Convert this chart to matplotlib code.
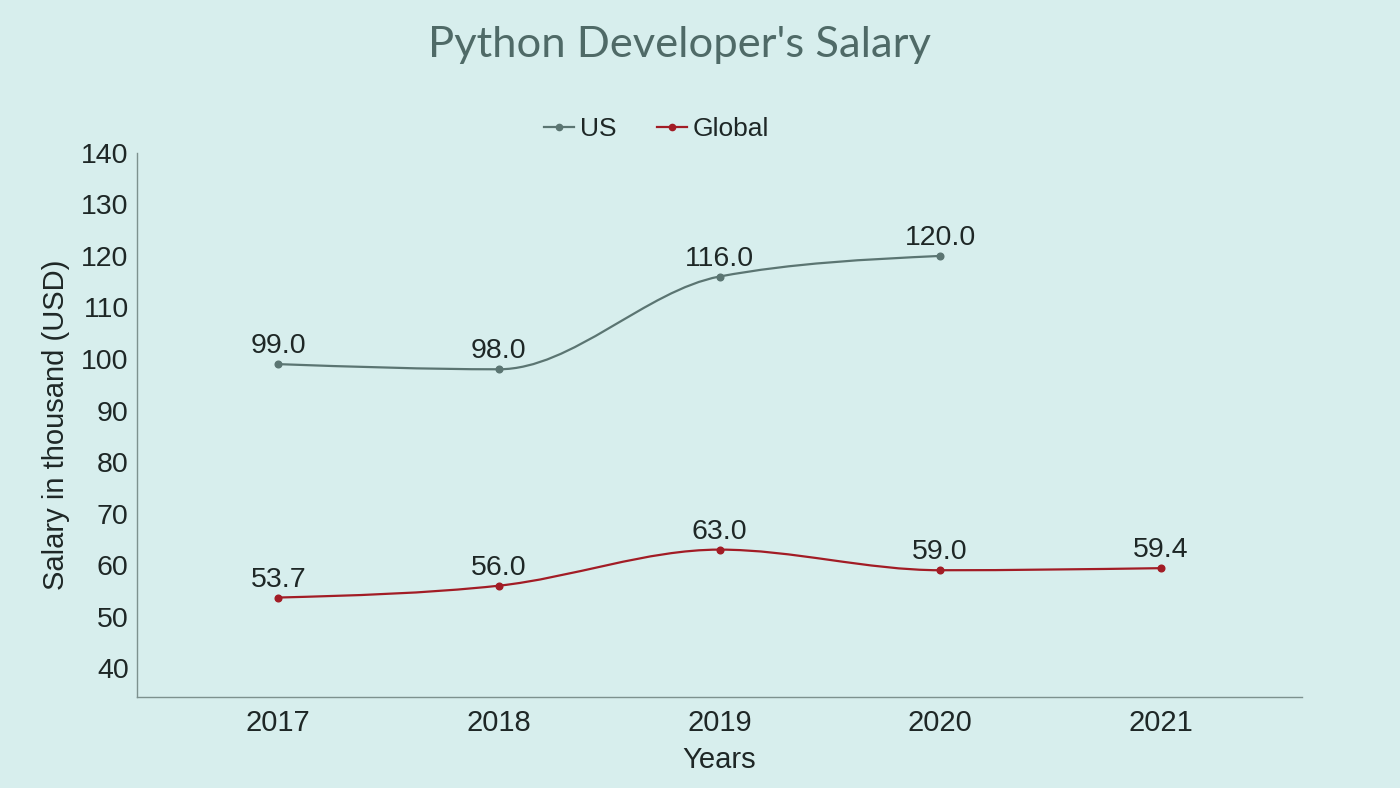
import numpy as np
import matplotlib.pyplot as plt
from matplotlib.path import Path
from matplotlib.patches import PathPatch
from matplotlib.lines import Line2D

years = [2017, 2018, 2019, 2020, 2021]
us_years = [2017, 2018, 2019, 2020]
us_salary = [99.0, 98.0, 116.0, 120.0]
global_salary = [53.7, 56.0, 63.0, 59.0, 59.4]
y_ticks = [40, 50, 60, 70, 80, 90, 100, 110, 120, 130, 140]

bg = '#d7eeed'
us_col = '#5b7572'
gl_col = '#a21c25'
txt_col = '#1e2726'

plt.rcParams['font.family'] = ['Liberation Sans', 'DejaVu Sans']


def sgn(v):
    return -1.0 if v < 0 else 1.0


def monotone_path(xs, ys):
    # monotone cubic curve (same rule as d3 curveMonotoneX)
    xs = np.asarray(xs, float)
    ys = np.asarray(ys, float)
    n = len(xs)
    t = np.zeros(n)
    for i in range(1, n - 1):
        h0 = xs[i] - xs[i - 1]
        h1 = xs[i + 1] - xs[i]
        s0 = (ys[i] - ys[i - 1]) / h0
        s1 = (ys[i + 1] - ys[i]) / h1
        p = (s0 * h1 + s1 * h0) / (h0 + h1)
        t[i] = (sgn(s0) + sgn(s1)) * min(abs(s0), abs(s1), 0.5 * abs(p))
    t[0] = (3 * (ys[1] - ys[0]) / (xs[1] - xs[0]) - t[1]) / 2
    t[-1] = (3 * (ys[-1] - ys[-2]) / (xs[-1] - xs[-2]) - t[-2]) / 2
    verts = [(xs[0], ys[0])]
    codes = [Path.MOVETO]
    for i in range(n - 1):
        dx = (xs[i + 1] - xs[i]) / 3
        verts += [(xs[i] + dx, ys[i] + dx * t[i]),
                  (xs[i + 1] - dx, ys[i + 1] - dx * t[i + 1]),
                  (xs[i + 1], ys[i + 1])]
        codes += [Path.CURVE4] * 3
    return Path(verts, codes)


fig = plt.figure(figsize=(14, 7.88), dpi=100, facecolor=bg)
ax = fig.add_axes([0.0979, 0.1155, 0.8321, 0.6905], facecolor=bg)
ax.set_xlim(2016.36, 2021.64)
ax.set_ylim(34.4, 139.8)

for xs, ys, col in [(us_years, us_salary, us_col), (years, global_salary, gl_col)]:
    ax.add_patch(PathPatch(monotone_path(xs, ys), facecolor='none',
                           edgecolor=col, lw=1.6, zorder=2))
    ax.plot(xs, ys, 'o', color=col, markersize=4.8, zorder=3)
    for x, y in zip(xs, ys):
        ax.annotate(f'{y:.1f}', (x, y), xytext=(0, 3.5), textcoords='offset points',
                    ha='center', va='bottom', fontsize=20.5, color=txt_col)

ax.set_xticks(years)
ax.set_xticklabels([str(y) for y in years])
ax.set_yticks(y_ticks)
ax.tick_params(length=0, colors=txt_col)
ax.tick_params(axis='x', labelsize=21, pad=9)
ax.tick_params(axis='y', labelsize=20.5, pad=6)
for s in ['top', 'right']:
    ax.spines[s].set_visible(False)
for s in ['left', 'bottom']:
    ax.spines[s].set_color('#7d918e')
    ax.spines[s].set_linewidth(1)

ax.set_xlabel('Years', fontsize=21, color=txt_col, labelpad=6)
ax.set_ylabel('Salary in thousand (USD)', fontsize=21, color=txt_col, labelpad=8)

fig.text(0.485, 0.943, "Python Developer's Salary", ha='center', va='center',
         fontsize=31.3, color='#4f6a67', family=['Lato', 'DejaVu Sans'])

handles = [Line2D([], [], color=us_col, lw=1.6, marker='o', markersize=4.5),
           Line2D([], [], color=gl_col, lw=1.6, marker='o', markersize=4.5)]
fig.legend(handles, ['US', 'Global'], loc='center', bbox_to_anchor=(0.469, 0.836),
           ncol=2, frameon=False, fontsize=19, handlelength=1.15, handletextpad=0.2,
           columnspacing=1.55, labelcolor=txt_col)

fig.savefig('out.png', dpi=100, facecolor=bg)
